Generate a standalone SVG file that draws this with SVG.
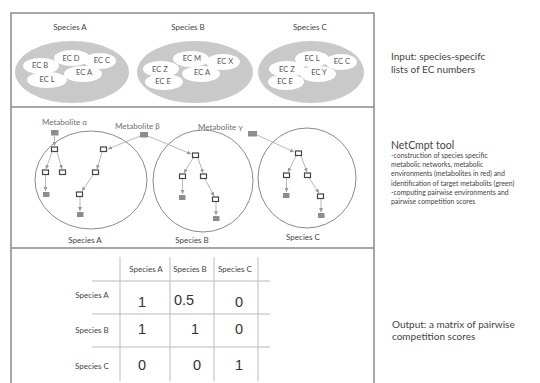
<svg xmlns="http://www.w3.org/2000/svg" width="540" height="383" viewBox="0 0 540 383">
<style>
.frame{stroke:#8a8a8a;stroke-width:1.5;fill:none}
.big{fill:#c9c9c9}
.sm{fill:#fff}
.lbl{font-family:Lato,"Open Sans",sans-serif;fill:#444;font-size:8px;text-anchor:middle}
.ec{font-family:Lato,"Open Sans",sans-serif;fill:#555;font-size:7.6px;text-anchor:middle}
.met{font-family:Lato,"Open Sans",sans-serif;fill:#6f6f6f;font-size:8px}
.circ{fill:none;stroke:#8a8a8a;stroke-width:1}
.wn{fill:#fff;stroke:#444;stroke-width:1.2}
.gn{fill:#8d8d8d}
.con{stroke:#999;stroke-width:0.7;fill:none;marker-end:url(#ah)}
.desc{font-family:Lato,"Open Sans",sans-serif;fill:#444}
.grid{stroke:#bbb;stroke-width:1}
.num{font-family:"Liberation Sans",Arial,sans-serif;font-size:14.5px;fill:#333;text-anchor:middle}
</style>
<defs>
<marker id="ah" markerWidth="5" markerHeight="5" refX="4" refY="2.5" orient="auto" markerUnits="userSpaceOnUse">
<path d="M0,0.5 L4,2.5 L0,4.5 z" fill="#999"/>
</marker>
</defs>
<rect width="540" height="383" fill="#fff"/>
<g id="frame">
<path class="frame" d="M11,384 V13 H374 V384"/>
<line class="frame" x1="11" y1="107" x2="374" y2="107"/>
<line class="frame" x1="11" y1="248" x2="374" y2="248"/>
</g>
<g id="input-A">
<text class="lbl" x="70" y="30">Species A</text>
<ellipse class="big" cx="72" cy="72" rx="57" ry="31"/>
<ellipse class="sm" cx="41" cy="66" rx="18" ry="8"/>
<ellipse class="sm" cx="72" cy="58" rx="18" ry="8"/>
<ellipse class="sm" cx="100" cy="61" rx="16" ry="8"/>
<ellipse class="sm" cx="83" cy="74" rx="19" ry="8"/>
<ellipse class="sm" cx="47" cy="80" rx="20" ry="8"/>
<text class="ec" x="40" y="68">EC B</text>
<text class="ec" x="71" y="61">EC D</text>
<text class="ec" x="102" y="63">EC C</text>
<text class="ec" x="84" y="75">EC A</text>
<text class="ec" x="47" y="82">EC L</text>
</g>
<g id="input-B">
<text class="lbl" x="188" y="30">Species B</text>
<ellipse class="big" cx="195" cy="72" rx="58" ry="31"/>
<ellipse class="sm" cx="161" cy="69" rx="18" ry="8"/>
<ellipse class="sm" cx="191" cy="59" rx="18" ry="8"/>
<ellipse class="sm" cx="223" cy="62" rx="17" ry="8"/>
<ellipse class="sm" cx="201" cy="74" rx="19" ry="8"/>
<ellipse class="sm" cx="164" cy="82" rx="19" ry="8"/>
<text class="ec" x="160" y="72">EC Z</text>
<text class="ec" x="192" y="61">EC M</text>
<text class="ec" x="225" y="64">EC X</text>
<text class="ec" x="202" y="75">EC A</text>
<text class="ec" x="163" y="84">EC E</text>
</g>
<g id="input-C">
<text class="lbl" x="310" y="30">Species C</text>
<ellipse class="big" cx="311" cy="72" rx="53" ry="31"/>
<ellipse class="sm" cx="287" cy="69" rx="18" ry="8"/>
<ellipse class="sm" cx="312" cy="59" rx="17" ry="8"/>
<ellipse class="sm" cx="341" cy="62" rx="16" ry="8"/>
<ellipse class="sm" cx="318" cy="74" rx="18" ry="8"/>
<ellipse class="sm" cx="286" cy="82" rx="18" ry="8"/>
<text class="ec" x="287" y="72">EC Z</text>
<text class="ec" x="312" y="61">EC L</text>
<text class="ec" x="342" y="64">EC C</text>
<text class="ec" x="319" y="75">EC Y</text>
<text class="ec" x="285" y="84">EC E</text>
</g>
<g id="net-A">
<ellipse class="circ" cx="91" cy="180" rx="56" ry="49"/>
<text class="lbl" x="85" y="243">Species A</text>
<rect class="wn" x="51.5" y="147" width="6" height="4.5"/>
<rect class="wn" x="42.5" y="170" width="6" height="4.5"/>
<rect class="wn" x="59.5" y="170" width="6" height="4.5"/>
<rect class="gn" x="43" y="192" width="6.5" height="5"/>
<rect class="wn" x="100.5" y="147" width="6" height="4.5"/>
<rect class="wn" x="92.5" y="170" width="6" height="4.5"/>
<rect class="wn" x="76.5" y="192" width="6" height="4.5"/>
<rect class="gn" x="77" y="212" width="6.5" height="5"/>
</g>
<g id="net-B">
<ellipse class="circ" cx="203" cy="181" rx="50" ry="51"/>
<text class="lbl" x="192" y="243">Species B</text>
<rect class="wn" x="192.5" y="153" width="6" height="4.5"/>
<rect class="wn" x="179.5" y="174" width="6" height="4.5"/>
<rect class="wn" x="200.5" y="174" width="6" height="4.5"/>
<rect class="gn" x="179" y="195" width="6.5" height="5"/>
<rect class="wn" x="212.5" y="197" width="6" height="4.5"/>
<rect class="gn" x="213" y="216" width="6.5" height="5"/>
</g>
<g id="net-C">
<ellipse class="circ" cx="307" cy="178" rx="49" ry="50"/>
<text class="lbl" x="303" y="240">Species C</text>
<rect class="wn" x="295.5" y="151" width="6" height="4.5"/>
<rect class="wn" x="283.5" y="173" width="6" height="4.5"/>
<rect class="wn" x="304.5" y="173" width="6" height="4.5"/>
<rect class="gn" x="283" y="193" width="6.5" height="5"/>
<rect class="wn" x="317.5" y="194" width="6" height="4.5"/>
<rect class="gn" x="318" y="213" width="6.5" height="5"/>
</g>
<g id="metabolite-alpha">
<text class="met" x="42" y="125">Metabolite α</text>
<rect class="gn" x="51" y="130" width="7.5" height="5.5"/>
</g>
<g id="metabolite-beta">
<text class="met" x="115" y="129">Metabolite β</text>
<rect class="gn" x="140" y="132" width="8" height="5.5"/>
</g>
<g id="metabolite-gamma">
<text class="met" x="198" y="130">Metabolite γ</text>
<rect class="gn" x="248" y="131" width="9" height="5.5"/>
</g>
<g id="connectors">
<line class="con" x1="54.5" y1="136" x2="54.5" y2="146"/>
<line class="con" x1="52" y1="152" x2="46" y2="169"/>
<line class="con" x1="57" y1="152" x2="62" y2="169"/>
<line class="con" x1="45.5" y1="175" x2="45.5" y2="191"/>
<line class="con" x1="140" y1="136" x2="108" y2="149"/>
<line class="con" x1="102" y1="152" x2="97" y2="169"/>
<line class="con" x1="93" y1="175" x2="82" y2="191"/>
<line class="con" x1="80" y1="197" x2="80" y2="211"/>
<line class="con" x1="148" y1="136" x2="191" y2="154"/>
<line class="con" x1="193" y1="158" x2="184" y2="173"/>
<line class="con" x1="198" y1="158" x2="203" y2="173"/>
<line class="con" x1="182.5" y1="179" x2="182.5" y2="194"/>
<line class="con" x1="205" y1="179" x2="214" y2="196"/>
<line class="con" x1="216" y1="202" x2="216" y2="215"/>
<line class="con" x1="257" y1="135" x2="294" y2="152"/>
<line class="con" x1="296" y1="156" x2="288" y2="172"/>
<line class="con" x1="301" y1="156" x2="307" y2="172"/>
<line class="con" x1="286.5" y1="178" x2="286.5" y2="192"/>
<line class="con" x1="309" y1="178" x2="319" y2="193"/>
<line class="con" x1="321" y1="199" x2="321" y2="212"/>
</g>
<g id="matrix">
<line class="grid" x1="120" y1="257" x2="120" y2="381"/>
<line class="grid" x1="170" y1="257" x2="170" y2="381"/>
<line class="grid" x1="214" y1="257" x2="214" y2="381"/>
<line class="grid" x1="258" y1="257" x2="258" y2="381"/>
<line class="grid" x1="92" y1="281" x2="270" y2="281"/>
<line class="grid" x1="92" y1="314" x2="270" y2="314"/>
<line class="grid" x1="92" y1="347" x2="270" y2="347"/>
<text class="lbl" x="146" y="272">Species A</text>
<text class="lbl" x="190" y="272">Species B</text>
<text class="lbl" x="235" y="272">Species C</text>
<text class="lbl" x="92" y="298">Species A</text>
<text class="lbl" x="92" y="333">Species B</text>
<text class="lbl" x="92" y="369">Species C</text>
<text class="num" x="142" y="307">1</text>
<text class="num" x="184" y="305">0.5</text>
<text class="num" x="239" y="307">0</text>
<text class="num" x="142" y="334">1</text>
<text class="num" x="195" y="334">1</text>
<text class="num" x="239" y="334">0</text>
<text class="num" x="142" y="370">0</text>
<text class="num" x="197" y="370">0</text>
<text class="num" x="239" y="370">1</text>
</g>
<g id="desc-input">
<text class="desc" x="391" y="60" font-size="10">Input: species-specifc</text>
<text class="desc" x="391" y="73" font-size="10">lists of EC numbers</text>
</g>
<g id="desc-netcmpt">
<text class="desc" x="391" y="149" font-size="10.5">NetCmpt tool</text>
<text class="desc" x="391" y="158" font-size="6.9">-construction of species specific</text>
<text class="desc" x="391" y="167" font-size="6.9">metabolic networks, metabolic</text>
<text class="desc" x="391" y="176" font-size="6.9">environments (metabolites in red) and</text>
<text class="desc" x="391" y="185.5" font-size="6.9">identification of target metabolits (green)</text>
<text class="desc" x="391" y="194.5" font-size="6.9">-computing pairwise environments and</text>
<text class="desc" x="391" y="203.5" font-size="6.9">pairwise competition scores</text>
</g>
<g id="desc-output">
<text class="desc" x="392" y="328" font-size="10">Output: a matrix of pairwise</text>
<text class="desc" x="392" y="340" font-size="10">competition scores</text>
</g>
</svg>
